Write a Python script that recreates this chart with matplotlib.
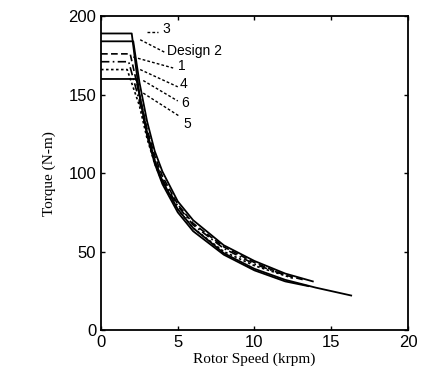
import matplotlib
matplotlib.use("Agg")
import matplotlib.pyplot as plt

# Torque–speed envelopes for the candidate designs (krpm, N-m)
speed_3 = [0, 2.0, 2.5, 3.0, 3.5, 4.0, 5.0, 6.0, 8.0, 10.0, 12.0, 14.0, 16.3]
torque_3 = [189, 189, 150, 126, 108, 95, 77, 65, 49, 39, 32, 27, 22]

speed_2 = [0, 2.1, 2.5, 3.0, 3.5, 4.0, 5.0, 6.0, 8.0, 10.0, 12.0, 13.8]
torque_2 = [184, 184, 158, 133, 114, 101, 82, 70, 54, 44, 36, 31]

speed_1 = [0, 1.9, 2.5, 3.0, 3.5, 4.0, 5.0, 6.0, 8.0, 10.0, 12.0, 13.2]
torque_1 = [176, 176, 150, 128, 111, 98, 80, 68, 53, 43, 35, 32]

speed_4 = [0, 1.8, 2.5, 3.0, 3.5, 4.0, 5.0, 6.0, 8.0, 10.0, 12.0]
torque_4 = [171, 171, 146, 125, 108, 96, 79, 67, 52, 42, 35]

speed_6 = [0, 1.7, 2.5, 3.0, 3.5, 4.0, 5.0, 6.0, 8.0, 10.0, 12.5]
torque_6 = [166, 166, 143, 122, 106, 94, 77, 65, 50, 41, 33]

speed_5 = [0, 2.3, 2.6, 3.0, 3.5, 4.0, 5.0, 6.0, 8.0, 10.0, 12.0, 13.5]
torque_5 = [160, 160, 145, 124, 106, 93, 75, 63, 48, 38, 31, 28]

design_labels = ["3", "Design 2", "1", "4", "6", "5"]
label_x = [4.0, 4.3, 5.0, 5.15, 5.2, 5.35]
label_y = [192, 178, 168, 157, 145, 131]
leader_x0 = [3.0, 2.55, 2.1, 2.55, 2.75, 2.75]
leader_y0 = [190, 185, 174, 166, 159, 151]
leader_x1 = [3.7, 4.15, 4.7, 5.0, 5.0, 5.15]
leader_y1 = [190, 177, 167, 155, 146, 136]

xticks = [0, 5, 10, 15, 20]
yticks = [0, 50, 100, 150, 200]

fig = plt.figure(figsize=(4.21, 3.86), dpi=100)
ax = fig.add_axes([0.240, 0.145, 0.729, 0.813])

ax.plot(speed_3, torque_3, color="black", lw=1.3, ls="-")
ax.plot(speed_2, torque_2, color="black", lw=1.3, ls="-")
ax.plot(speed_1, torque_1, color="black", lw=1.2, ls=(0, (4, 2)))
ax.plot(speed_4, torque_4, color="black", lw=1.2, ls=(0, (5, 2, 1, 2)))
ax.plot(speed_6, torque_6, color="black", lw=1.2, ls=(0, (1.5, 1.5)))
ax.plot(speed_5, torque_5, color="black", lw=1.3, ls="-")

# leader lines from each curve to its label
for x0, y0, x1, y1 in zip(leader_x0, leader_y0, leader_x1, leader_y1):
    ax.plot([x0, x1], [y0, y1], color="black", lw=1.0, ls=(0, (2, 1.5)))
for lab, x, y in zip(design_labels, label_x, label_y):
    ax.text(x, y, lab, fontsize=10, family="Liberation Sans",
            ha="left", va="center")

ax.set_xlim(0, 20)
ax.set_ylim(0, 200)
ax.set_xticks(xticks)
ax.set_yticks(yticks)
ax.tick_params(direction="in", top=True, right=True, length=3,
               labelsize=12, width=1)
for lbl in ax.get_xticklabels() + ax.get_yticklabels():
    lbl.set_family("Liberation Sans")
for s in ax.spines.values():
    s.set_linewidth(1.3)

ax.set_xlabel("Rotor Speed (krpm)", fontsize=11, family="Liberation Serif",
              labelpad=2)
ax.set_ylabel("Torque (N-m)", fontsize=11, family="Liberation Serif",
              labelpad=9)

fig.savefig("out.png", dpi=100, facecolor="white")
